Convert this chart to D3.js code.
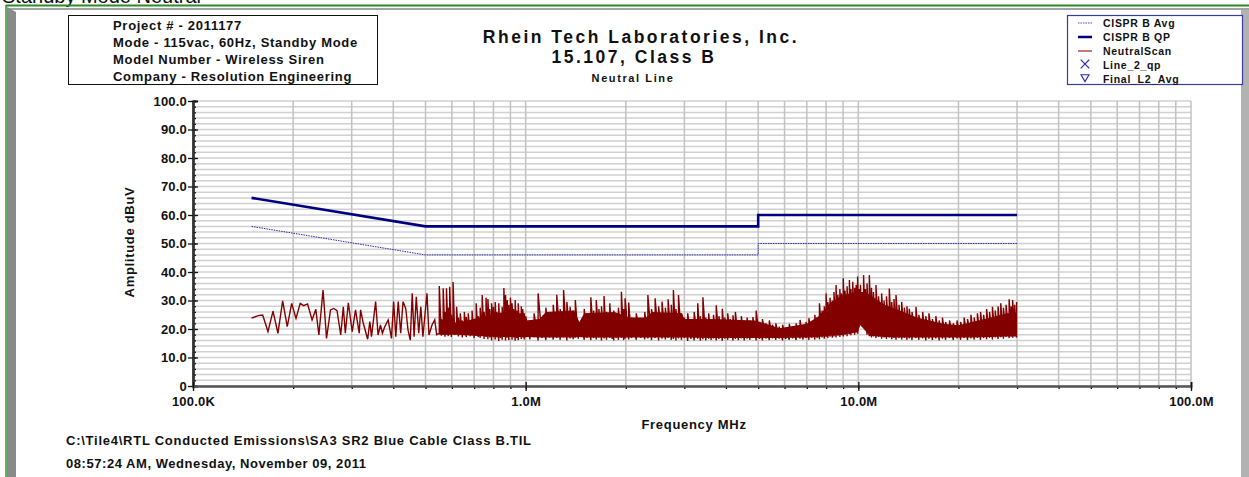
<!DOCTYPE html>
<html>
<head>
<meta charset="utf-8">
<script src="https://cdn.jsdelivr.net/npm/d3@7"></script>
<style>
  body { margin: 0; background: #fff; }
  svg text { font-family: "Liberation Sans", Arial, sans-serif; font-weight: bold; fill: #111; }
</style>
</head>
<body>
<svg id="chart"></svg>
<script>
// ---- chart text ----
let pageTitle = "Standby Mode Neutral";
let infoLines = ["Project # - 2011177", "Mode - 115vac, 60Hz, Standby Mode", "Model Number - Wireless Siren", "Company - Resolution Engineering"];
let titleLines = ["Rhein Tech Laboratories, Inc.", "15.107, Class B", "Neutral Line"];
let legendNames = ["CISPR B Avg", "CISPR B QP", "NeutralScan", "Line_2_qp", "Final_L2_Avg"];
let footerLines = ["C:\\Tile4\\RTL Conducted Emissions\\SA3 SR2 Blue Cable Class B.TIL", "08:57:24 AM, Wednesday, November 09, 2011"];
let yLabel = "Amplitude dBuV";
let xLabel = "Frequency MHz";

// ---- axes ----
let yMajorTicks = [0, 10, 20, 30, 40, 50, 60, 70, 80, 90, 100];
let xMajorTicks = [0.1, 1, 10, 100];           // MHz
let xTickLabels = ["100.0K", "1.0M", "10.0M", "100.0M"];

// ---- limit lines [MHz, dBuV] ----
let qpLimit = [[0.15, 66], [0.5, 56], [5, 56], [5, 60], [30, 60]];
let avgLimit = [[0.15, 56], [0.5, 46], [5, 46], [5, 50], [30, 50]];

// ---- neutral scan, low end: single readings [MHz, dBuV] ----
let scanSweep = [[0.150,23.8],[0.157,24.7],[0.162,24.9],[0.168,19.1],[0.174,26.3],[0.180,18.5],[0.186,29.9],[0.192,20.8],
  [0.198,29.0],[0.204,23.7],[0.210,29.0],[0.215,28.2],[0.221,28.8],[0.228,23.2],[0.234,26.9],[0.239,17.9],[0.246,33.7],
  [0.252,16.7],[0.259,26.7],[0.265,27.2],[0.271,26.4],[0.278,17.9],[0.283,27.8],[0.287,18.5],[0.293,29.2],[0.301,19.1],
  [0.308,26.7],[0.316,18.5],[0.319,26.7],[0.325,22.0],[0.335,16.4],[0.340,22.6],[0.344,17.3],[0.354,29.6],[0.360,17.9],
  [0.366,21.4],[0.371,18.5],[0.377,20.8],[0.386,23.2],[0.395,16.7],[0.401,29.6],[0.407,17.3],[0.414,29.6],[0.421,18.5],
  [0.428,29.6],[0.436,27.2],[0.443,19.6],[0.450,16.1],[0.456,32.5],[0.462,17.3],[0.469,31.3],[0.477,18.5],[0.484,27.8],
  [0.491,17.3],[0.505,32.5],[0.512,17.9],[0.523,21.4],[0.533,23.2],[0.540,18.0]];

// ---- neutral scan, dense part: [MHz, low dBuV, high dBuV] per bin ----
let scanDense = [[0.550,18.5,35.1],[0.558,17.6,23.5],[0.565,18.0,34.3],[0.572,17.3,26.0],[0.578,18.2,34.3],[0.585,17.5,27.5],
  [0.591,18.0,34.8],[0.598,17.2,25.0],[0.605,18.4,36.5],[0.612,17.9,22.5],[0.620,18.6,27.8],[0.628,17.4,24.0],[0.636,18.2,25.5],
  [0.645,17.0,23.0],[0.654,17.8,26.0],[0.663,17.2,24.2],[0.672,18.0,25.5],[0.681,17.5,22.8],[0.690,17.8,26.5],[0.700,16.8,23.5],
  [0.710,17.6,29.0],[0.720,17.2,24.5],[0.730,16.9,27.5],[0.740,17.5,31.9],[0.750,16.5,26.0],[0.760,17.2,31.0],[0.770,16.4,30.5],
  [0.780,17.0,27.0],[0.790,16.0,29.0],[0.800,17.1,27.8],[0.810,16.3,29.5],[0.820,17.0,26.0],[0.830,15.8,29.0],[0.840,16.8,25.5],
  [0.850,16.2,27.8],[0.860,17.2,34.4],[0.870,16.0,31.9],[0.880,16.9,30.2],[0.890,16.1,28.5],[0.900,17.4,31.0],[0.910,16.2,29.0],
  [0.920,17.0,27.0],[0.930,15.9,30.2],[0.940,16.8,26.5],[0.950,16.1,29.0],[0.960,17.3,25.5],[0.970,16.5,28.0],[0.980,17.0,27.0],
  [0.990,16.3,25.5],[1.00,17.0,24.5],[1.03,16.4,22.8],[1.06,17.2,25.5],[1.09,16.0,32.5],[1.12,16.8,24.0],[1.15,16.1,27.5],
  [1.18,17.0,26.0],[1.21,16.3,28.5],[1.24,16.9,32.0],[1.27,16.2,27.0],[1.30,17.1,33.7],[1.33,16.0,29.5],[1.36,16.7,27.8],
  [1.39,16.4,26.5],[1.41,17.0,30.2],[1.44,16.6,22.0],[1.47,17.2,23.0],[1.50,16.2,27.0],[1.53,16.9,25.5],[1.57,16.1,31.1],
  [1.60,16.8,26.5],[1.63,16.3,30.2],[1.66,17.0,27.0],[1.69,16.0,28.0],[1.72,16.7,31.6],[1.75,16.2,26.0],[1.79,16.9,29.0],
  [1.82,16.5,25.5],[1.84,16.0,26.5],[1.87,16.8,25.0],[1.90,16.2,27.5],[1.94,16.9,33.1],[1.97,16.1,27.0],[1.99,16.6,30.8],
  [2.04,16.3,29.3],[2.08,16.8,24.0],[2.15,16.2,25.5],[2.22,16.9,23.5],[2.28,16.4,26.0],[2.33,16.7,31.9],[2.39,16.1,27.0],
  [2.45,16.8,30.8],[2.51,16.0,28.0],[2.57,16.6,29.6],[2.63,16.3,27.5],[2.68,16.9,30.4],[2.74,16.2,28.5],[2.78,16.5,33.7],
  [2.83,16.0,27.0],[2.88,16.7,31.9],[2.94,16.2,25.5],[3.00,16.8,24.0],[3.07,15.8,25.5],[3.14,16.5,23.0],[3.21,16.0,26.0],
  [3.29,16.6,29.0],[3.35,15.9,24.5],[3.41,16.4,31.1],[3.48,16.0,24.0],[3.55,16.6,25.5],[3.61,16.1,23.0],[3.67,16.7,25.0],
  [3.74,16.0,28.3],[3.81,16.5,24.5],[3.90,15.9,27.1],[3.97,16.6,24.0],[4.05,16.2,25.5],[4.12,16.8,23.5],[4.20,16.0,24.8],
  [4.27,16.5,26.0],[4.36,16.1,23.0],[4.45,16.7,24.5],[4.54,16.0,22.8],[4.63,16.6,24.0],[4.72,16.2,23.0],[4.82,16.8,24.2],
  [4.93,16.0,26.5],[5.05,16.5,22.5],[5.15,16.0,23.5],[5.28,16.6,22.0],[5.40,16.1,23.0],[5.52,16.7,21.5],[5.65,16.2,22.0],
  [5.78,16.6,20.8],[5.92,16.0,21.5],[6.05,16.5,20.5],[6.20,16.2,21.8],[6.35,16.7,20.8],[6.50,16.1,22.0],[6.68,16.6,23.2],
  [6.82,16.3,21.5],[6.96,16.8,22.5],[7.10,16.2,23.8],[7.25,16.9,22.8],[7.40,16.3,25.0],[7.52,16.8,24.0],[7.64,16.4,29.0],
  [7.78,17.0,26.5],[7.90,16.6,28.0],[8.00,17.2,32.5],[8.10,16.8,29.5],[8.22,17.3,31.0],[8.35,16.9,30.0],[8.45,17.4,33.0],
  [8.57,17.0,35.4],[8.68,17.6,32.0],[8.80,17.2,34.0],[8.90,17.8,32.5],[9.01,17.4,37.8],[9.12,18.0,33.5],[9.25,17.5,35.0],
  [9.40,18.2,37.2],[9.50,17.8,34.0],[9.62,18.5,36.6],[9.75,18.0,34.5],[9.85,18.8,35.5],[9.95,18.3,38.4],[10.05,20.5,34.0],
  [10.15,22.0,35.5],[10.25,22.5,33.0],[10.37,21.5,38.9],[10.50,19.5,34.0],[10.62,18.0,36.0],[10.79,17.5,38.9],[10.95,17.0,34.5],
  [11.10,17.4,33.0],[11.30,16.8,35.4],[11.50,17.2,31.5],[11.75,16.6,32.5],[11.95,17.0,30.0],[12.15,16.5,31.5],[12.39,17.0,34.2],
  [12.60,16.4,29.5],[12.80,16.9,30.5],[12.98,16.2,31.9],[13.25,16.8,28.5],[13.50,16.3,29.5],[13.75,16.9,27.5],[14.00,16.2,28.0],
  [14.23,16.7,27.1],[14.50,16.1,26.0],[14.90,16.8,27.8],[15.20,16.2,25.0],[15.61,16.7,26.0],[15.95,16.0,24.5],[16.30,16.6,25.5],
  [16.70,16.1,23.5],[17.10,16.7,24.5],[17.50,16.0,23.0],[17.90,16.6,24.0],[18.30,16.2,22.5],[18.80,16.8,23.0],[19.30,16.1,22.0],
  [19.80,16.7,23.0],[20.30,16.2,22.5],[20.80,16.8,24.0],[21.30,16.1,23.5],[21.80,16.7,25.0],[22.30,16.3,24.0],[22.80,16.9,25.5],
  [23.30,16.2,26.0],[23.80,16.8,25.0],[24.30,16.4,27.0],[24.80,16.9,26.0],[25.30,16.3,27.8],[25.80,17.0,26.5],[26.30,16.5,28.0],
  [26.80,17.1,29.0],[27.30,16.6,27.5],[27.80,17.2,28.5],[28.40,16.8,30.4],[28.80,17.4,28.0],[29.10,16.9,30.2],[29.50,17.5,28.5],
  [29.90,17.0,29.5]];

// ---- neutral scan, solid core of the dense band: [MHz, bottom dBuV, top dBuV] ----
let scanCore = [[0.55,18.0,23.5],[0.62,18.0,22.0],[0.75,17.5,24.5],[0.86,17.2,26.0],[1.00,17.2,23.0],[1.10,17.0,23.5],
  [1.15,17.0,26.0],[1.40,17.0,26.5],[1.45,17.2,22.5],[1.50,17.0,25.5],[1.85,17.0,26.0],[2.05,17.0,24.0],[2.30,17.0,24.0],
  [2.40,17.0,26.0],[2.95,17.0,25.5],[3.00,17.0,23.5],[3.60,16.8,23.5],[4.90,16.8,23.0],[5.80,16.8,20.3],[7.00,17.0,21.8],
  [7.60,17.2,24.5],[8.20,17.6,29.0],[9.00,18.0,32.0],[10.0,19.0,33.0],[10.1,21.5,33.0],[10.5,19.5,33.0],[10.8,17.6,32.0],
  [12.0,17.2,28.5],[13.0,17.0,27.0],[15.0,17.0,24.0],[18.0,17.0,21.8],[20.0,17.0,21.3],[22.0,17.0,22.5],[25.0,17.2,24.0],
  [28.0,17.4,25.5],[29.9,17.4,25.5]];

// ---- set up the svg and scales ----
let width = 1249, height = 477;
let plot = {left: 193, right: 1191, top: 101, bottom: 386};

let svg = d3.select("#chart")
  .attr("width", width)
  .attr("height", height);

let x = d3.scaleLog().domain([0.1, 100]).range([plot.left, plot.right]);
let y = d3.scaleLinear().domain([0, 100]).range([plot.bottom, plot.top]);

// ---- window frame ----
svg.append("text")
  .attr("x", 2).attr("y", 3)
  .style("font-size", "20px").style("font-weight", "normal")
  .text(pageTitle);
svg.append("rect").attr("x", 7).attr("y", 8).attr("width", 1242).attr("height", 2).attr("fill", "#a3a3a3");
svg.append("polygon").attr("points", "7,7 16,12 16,477 7,477").attr("fill", "#8a8a8a");
svg.append("rect").attr("x", 1241).attr("y", 10).attr("width", 8).attr("height", 467).attr("fill", "#b2b2b2");
svg.append("line").attr("x1", 6).attr("x2", 1249).attr("y1", 5.5).attr("y2", 5.5)
  .attr("stroke", "#2a8a2a").attr("stroke-width", 2);
svg.append("line").attr("x1", 6).attr("x2", 6).attr("y1", 5).attr("y2", 477)
  .attr("stroke", "#2a8a2a").attr("stroke-width", 1.4);

// ---- info box ----
svg.append("rect")
  .attr("x", 68.5).attr("y", 15.5).attr("width", 309).attr("height", 69)
  .attr("fill", "none").attr("stroke", "#111").attr("stroke-width", 1);
svg.append("g").selectAll("text")
  .data(infoLines)
  .enter().append("text")
  .attr("x", 113)
  .attr("y", (d, i) => 30 + i * 17)
  .style("font-size", "13px")
  .style("letter-spacing", "0.7px")
  .text(d => d);

// ---- titles ----
let titleStyle = [{y: 43, size: 17.5, ls: 2.5, cx: 641}, {y: 63, size: 17.5, ls: 2.5, cx: 634}, {y: 82, size: 11, ls: 1.6, cx: 633}];
svg.append("g").selectAll("text")
  .data(titleLines)
  .enter().append("text")
  .attr("x", (d, i) => titleStyle[i].cx)
  .attr("y", (d, i) => titleStyle[i].y)
  .attr("text-anchor", "middle")
  .style("font-size", (d, i) => titleStyle[i].size + "px")
  .style("letter-spacing", (d, i) => titleStyle[i].ls + "px")
  .text(d => d);

// ---- legend ----
let legend = svg.append("g").attr("class", "legend");
legend.append("rect")
  .attr("x", 1067.5).attr("y", 15.5).attr("width", 175).attr("height", 69)
  .attr("fill", "#fff").attr("stroke", "#3c3c9c").attr("stroke-width", 1.2);
let legendRows = legend.selectAll(".row")
  .data(legendNames)
  .enter().append("g")
  .attr("class", "row")
  .attr("transform", (d, i) => `translate(1078, ${23 + i * 14})`);
legendRows.append("text")
  .attr("x", 25).attr("y", 4)
  .style("font-size", "10.5px")
  .style("letter-spacing", "0.7px")
  .text(d => d);
legendRows.filter((d, i) => i < 3).append("line")
  .attr("x1", 0).attr("x2", 14).attr("y1", 0).attr("y2", 0)
  .attr("stroke", (d, i) => ["#4a4ad0", "#00007f", "#a02020"][i])
  .attr("stroke-width", (d, i) => [1, 2.5, 1.2][i])
  .attr("stroke-dasharray", (d, i) => i === 0 ? "1.5,1" : null);
legendRows.filter((d, i) => i === 3).append("path")
  .attr("transform", "translate(7,-1)")
  .attr("d", d3.symbol().type(d3.symbolX).size(50))
  .attr("fill", "none").attr("stroke", "#2525c0").attr("stroke-width", 1.2);
legendRows.filter((d, i) => i === 4).append("path")
  .attr("transform", "translate(7,-2) rotate(180)")
  .attr("d", d3.symbol().type(d3.symbolTriangle).size(28))
  .attr("fill", "none").attr("stroke", "#2525c0").attr("stroke-width", 1.1);

// ---- grid ----
let grid = svg.append("g").attr("class", "grid");
grid.selectAll(".hgrid")
  .data(y.ticks(50))
  .enter().append("line")
  .attr("x1", plot.left).attr("x2", plot.right)
  .attr("y1", d => y(d)).attr("y2", d => y(d))
  .attr("stroke", "#d0d0d0").attr("stroke-width", 1.5);
grid.selectAll(".vgrid")
  .data(x.ticks())
  .enter().append("line")
  .attr("x1", d => x(d)).attr("x2", d => x(d))
  .attr("y1", plot.top).attr("y2", plot.bottom)
  .attr("stroke", "#c2c2c2").attr("stroke-width", 1.5);

// ---- limit lines ----
let line = d3.line().x(d => x(d[0])).y(d => y(d[1]));
svg.append("path").datum(avgLimit)
  .attr("d", line).attr("fill", "none")
  .attr("stroke", "#2a2aa8").attr("stroke-width", 1).attr("stroke-dasharray", "1.5,1");
svg.append("path").datum(qpLimit)
  .attr("d", line).attr("fill", "none")
  .attr("stroke", "#00007f").attr("stroke-width", 2.6);

// ---- neutral scan trace ----
// solid core of the dense band
let band = d3.area()
  .x(d => x(d[0]))
  .y0(d => y(d[1]))
  .y1(d => y(d[2]));
svg.append("path").datum(scanCore)
  .attr("d", band)
  .attr("fill", "#820000");

// sweep readings, then low/high for each dense bin
let scanPoints = scanSweep.slice();
scanDense.forEach(function(d) {
  scanPoints.push([d[0], d[1]]);
  scanPoints.push([d[0], d[2]]);
});
svg.append("path").datum(scanPoints)
  .attr("d", line).attr("fill", "none")
  .attr("stroke", "#820000").attr("stroke-width", 1.4);

// ---- y axis ----
let yFormat = d => d === 0 ? "0" : d3.format(".1f")(d);
let yAxis = svg.append("g").attr("transform", `translate(${plot.left},0)`);
yAxis.call(d3.axisLeft(y).tickValues(y.ticks(50)).tickSize(3).tickFormat(""))
yAxis.call(d3.axisRight(y).tickValues(y.ticks(50)).tickSize(3).tickFormat(""))
yAxis.append("g").call(d3.axisRight(y).tickValues(yMajorTicks).tickSize(5).tickFormat(""));
yAxis.append("g").attr("class", "ymajor")
  .call(d3.axisLeft(y).tickValues(yMajorTicks).tickSize(5).tickSizeOuter(0).tickPadding(1).tickFormat(yFormat));
yAxis.selectAll(".domain").attr("stroke", "#333").attr("stroke-width", 2);
yAxis.selectAll(".tick line").attr("stroke", "#111").attr("stroke-width", 1.3);
yAxis.selectAll(".ymajor text")
  .style("font-size", "13px")
  .style("letter-spacing", "0.2px").attr("fill", "#111");

// ---- x axis ----
let xAxis = svg.append("g").attr("transform", `translate(0,${plot.bottom})`);
xAxis.call(d3.axisBottom(x).tickValues(x.ticks()).tickSize(3).tickSizeOuter(0).tickFormat(""));
xAxis.append("g").call(d3.axisTop(x).tickValues(xMajorTicks).tickSize(4).tickFormat(""));
xAxis.append("g").attr("class", "xmajor")
  .call(d3.axisBottom(x).tickValues(xMajorTicks).tickSize(5).tickFormat((d, i) => xTickLabels[i]));
xAxis.selectAll(".xmajor .domain").remove();
xAxis.selectAll(".domain").attr("stroke", "#555").attr("stroke-width", 2);
xAxis.selectAll(".tick line").attr("stroke", "#111").attr("stroke-width", 1.3);
xAxis.selectAll(".xmajor text")
  .attr("y", 20).attr("dy", 0)
  .style("font-size", "13px").style("letter-spacing", "0.2px").attr("fill", "#111");

// ---- axis titles ----
svg.append("text")
  .attr("transform", "translate(134,242) rotate(-90)")
  .attr("text-anchor", "middle")
  .style("font-size", "13px").style("letter-spacing", "0.7px")
  .text(yLabel);
svg.append("text")
  .attr("x", 694).attr("y", 429)
  .attr("text-anchor", "middle")
  .style("font-size", "13px").style("letter-spacing", "0.7px")
  .text(xLabel);

// ---- footer ----
svg.append("g").selectAll("text")
  .data(footerLines)
  .enter().append("text")
  .attr("x", 66)
  .attr("y", (d, i) => 445 + i * 23)
  .style("font-size", "13px")
  .style("letter-spacing", (d, i) => i === 0 ? "0.75px" : "0.55px")
  .text(d => d);
</script>
</body>
</html>
